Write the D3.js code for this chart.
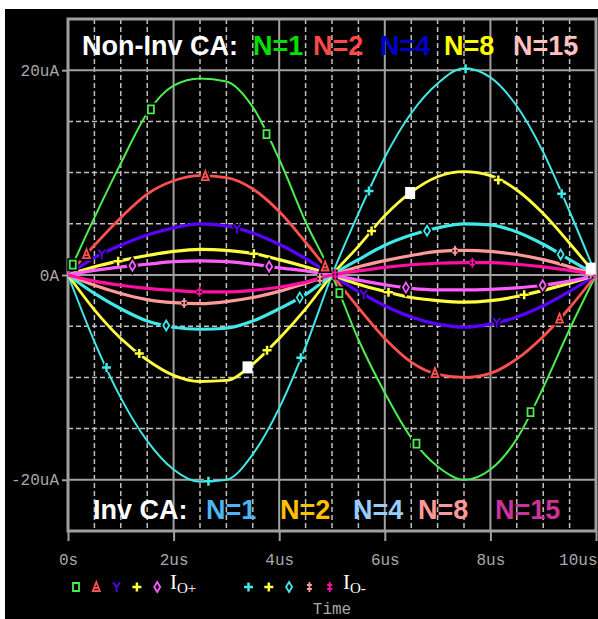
<!DOCTYPE html>
<html>
<head>
<meta charset="utf-8">
<title>CA output current</title>
<script src="https://d3js.org/d3.v7.min.js"></script>
<style>
body { margin:0; background:#fff; }
</style>
</head>
<body>
<svg id="chart" width="598" height="619"></svg>
<script>
// time in us, currents in uA
var time = [0,0.5,1,1.5,2,2.5,3,3.5,4,4.5,5,5.5,6,6.5,7,7.5,8,8.5,9,9.5,10];

// Io+ (non-inverting CA)
var plusN1  = [0,5.6,10.9,15.8,18.5,19.2,18.9,16.4,11.3,5.2,0,-6.3,-11.5,-15.9,-18.7,-20.0,-19.0,-16.0,-11.0,-5.3,0];
var plusN2  = [0,2.9,5.6,7.9,9.2,9.7,9.5,8.4,6.2,3.2,0,-3.2,-6.2,-8.5,-9.7,-10.0,-9.6,-8.2,-6.0,-3.2,0];
var plusN4  = [0,1.7,2.9,3.9,4.6,5.0,4.8,4.1,3.0,1.6,0,-1.6,-3.0,-4.1,-4.8,-5.1,-4.8,-4.1,-3.0,-1.6,0];
var plusN8  = [0,0.8,1.4,1.9,2.3,2.5,2.4,2.1,1.5,0.8,0,-0.9,-1.6,-2.2,-2.5,-2.65,-2.5,-2.1,-1.5,-0.8,0];
var plusN15 = [0,0.45,0.8,1.05,1.3,1.37,1.3,1.05,0.7,0.4,0,-0.5,-0.95,-1.3,-1.45,-1.46,-1.4,-1.25,-1.0,-0.6,0];

// Io- (inverting CA)
var minusN1  = [0,-6.5,-12.0,-16.2,-19.0,-20.2,-20.0,-17.5,-13.0,-7.0,0,6.0,11.5,15.8,18.7,20.2,19.3,16.5,12.0,6.2,0];
var minusN2  = [0,-3.4,-6.2,-8.3,-9.8,-10.4,-10.3,-8.7,-6.2,-3.3,0,2.8,5.8,8.1,9.6,10.1,9.7,8.3,6.0,3.1,0];
var minusN4  = [0,-1.8,-3.3,-4.5,-5.1,-5.3,-5.2,-4.5,-3.3,-1.9,0,1.5,2.9,3.9,4.6,5.0,4.9,4.2,3.0,1.5,0];
var minusN8  = [0,-1.0,-1.8,-2.4,-2.7,-2.8,-2.6,-2.2,-1.6,-0.8,0,0.8,1.4,1.9,2.3,2.4,2.3,2.0,1.5,0.8,0];
var minusN15 = [0,-0.6,-1.0,-1.3,-1.5,-1.65,-1.65,-1.5,-1.2,-0.7,0,0.4,0.75,1.0,1.15,1.2,1.2,1.05,0.8,0.45,0];

// times where the trace symbols sit
var markPlusN1  = [0.09,1.57,3.76,5.14,6.6,8.76];
var markPlusN2  = [0.35,2.6,4.87,6.95,9.31];
var markPlusN4  = [0.64,3.2,5.6,8.12];
var markPlusN8  = [0.95,3.52,6.07,8.64];
var markPlusN15 = [1.22,3.81,6.4,8.99];
var markMinusN1  = [0.73,2.66,4.41,5.7,7.53,9.35];
var markMinusN2  = [1.35,3.77,5.75,8.15];
var markMinusN4  = [1.86,4.39,6.8,9.33];
var markMinusN8  = [2.2,4.77,7.33,9.9];
var markMinusN15 = [2.49,5.06,7.66];
// white cursor boxes on the N=2 inverting trace
var cursorTimes = [3.4,6.48,9.9];

var xTicks = [0,2,4,6,8,10];
var xTickLabels = ["0s","2us","4us","6us","8us","10us"];
var yTicks = [20,0,-20];
var yTickLabels = ["20uA","0A","-20uA"];

var topTitle = "Non-Inv CA:";
var topLabels = ["N=1","N=2","N=4","N=8","N=15"];
var topColors = ["#00e000","#ff4848","#0000c8","#ffff00","#ffc0c0"];
var botTitle = "Inv CA:";
var botLabels = ["N=1","N=2","N=4","N=8","N=15"];
var botColors = ["#4db5f5","#ffc000","#99ccff","#ff9999","#cc3399"];

var series = [
  {v: plusN1,  c: "#4cee4c", w: 2,   s: "square",   m: markPlusN1},
  {v: plusN2,  c: "#ff5050", w: 2.8, s: "triangle", m: markPlusN2},
  {v: plusN4,  c: "#5a00ff", w: 3.2, s: "y",        m: markPlusN4},
  {v: plusN8,  c: "#ffff40", w: 3.2, s: "plus",     m: markPlusN8},
  {v: plusN15, c: "#ff5cff", w: 3.2, s: "diamond",  m: markPlusN15},
  {v: minusN1,  c: "#40e8e8", w: 2,   s: "plus",    m: markMinusN1},
  {v: minusN2,  c: "#ffff40", w: 2.8, s: "plus",    m: markMinusN2},
  {v: minusN4,  c: "#40e8e8", w: 3.2, s: "diamond", m: markMinusN4},
  {v: minusN8,  c: "#ff9a9a", w: 3.2, s: "dagger",  m: markMinusN8},
  {v: minusN15, c: "#ff10a0", w: 3.2, s: "dagger",  m: markMinusN15}
];

var svg = d3.select("#chart");
svg.append("rect").attr("x",5).attr("y",9).attr("width",593).attr("height",610).attr("fill","#000");

var x = d3.scaleLinear().domain([0,10]).range([68,596]);
var y = d3.scaleLinear().domain([-25,25]).range([531,19]);

// grid
var grid = svg.append("g");
d3.range(0.5,10,0.5).forEach(function(t){
  var solid = t % 2 === 0;
  grid.append("line").attr("x1",x(t)).attr("x2",x(t)).attr("y1",y(25)).attr("y2",y(-25))
    .attr("stroke", solid ? "#a0a0a0" : "#c0c0c0").attr("stroke-width", solid ? 2 : 1.5)
    .attr("stroke-dasharray", solid ? null : "5,3");
});
d3.range(-20,25,5).forEach(function(v){
  var solid = v % 20 === 0;
  grid.append("line").attr("x1",x(0)).attr("x2",x(10)).attr("y1",y(v)).attr("y2",y(v))
    .attr("stroke", solid ? "#a0a0a0" : "#c0c0c0").attr("stroke-width", solid ? 2 : 1.5)
    .attr("stroke-dasharray", solid ? null : "5,3");
});
svg.append("rect").attr("x",x(0)).attr("y",y(25)).attr("width",x(10)-x(0)).attr("height",y(-25)-y(25))
  .attr("fill","none").attr("stroke","#a0a0a0").attr("stroke-width",3);

// axes
var axFont = "'Liberation Mono', 'DejaVu Sans Mono', monospace";
var xAxis = svg.append("g").attr("transform","translate(0,"+y(-25)+")")
  .call(d3.axisBottom(x).tickValues(xTicks).tickSize(10).tickPadding(13)
    .tickFormat(function(d,i){ return xTickLabels[i]; }));
var yAxis = svg.append("g").attr("transform","translate("+x(0)+",0)")
  .call(d3.axisLeft(y).tickValues(yTicks).tickSize(6).tickPadding(3)
    .tickFormat(function(d,i){ return yTickLabels[i]; }));
[xAxis,yAxis].forEach(function(a){
  a.select(".domain").remove();
  a.selectAll("line").attr("stroke","#a0a0a0").attr("stroke-width",2);
  a.selectAll("text").attr("fill","#a8a8a8").style("font-family",axFont).style("font-size","16px");
});
// last time label sits flush with the right frame
xAxis.selectAll(".tick").filter(function(d){ return d === 10; }).select("text")
  .attr("text-anchor","end").attr("x",1);
svg.append("text").attr("x",(x(0)+x(10))/2).attr("y",614).attr("text-anchor","middle")
  .attr("fill","#a8a8a8").style("font-family",axFont).style("font-size","16px").text("Time");

// symbols
var symbolPaths = {
  square:   "M-3,-4H3V4H-3Z",
  triangle: "M0,-5L-3.5,4H3.5ZM-2,1H2",
  y:        "M-3.5,-4.5L0,0L3.5,-4.5M0,0V5",
  plus:     "M-4.5,0H4.5M0,-4.5V4.5",
  diamond:  "M0,-5L3,0L0,5L-3,0Z",
  dagger:   "M0,-5V5M-2.5,-2H2.5M-2.5,2H2.5"
};
function drawSymbol(g, type, color){
  g.append("path").attr("d",symbolPaths[type]).attr("fill","#000")
    .attr("stroke","#000").attr("stroke-width",5);
  g.append("path").attr("d",symbolPaths[type]).attr("fill", "#000")
    .attr("stroke",color).attr("stroke-width", type==="plus" ? 2.5 : 1.8);
}
function valueAt(vals, t){
  var i = Math.min(d3.bisectRight(time, t) - 1, time.length - 2);
  var f = (t - time[i]) / (time[i+1] - time[i]);
  return vals[i] + f * (vals[i+1] - vals[i]);
}

// traces
var line = d3.line().x(function(d,i){ return x(time[i]); }).y(function(d){ return y(d); })
  .curve(d3.curveMonotoneX);
var traces = svg.append("g");
series.forEach(function(s){
  traces.append("path").datum(s.v).attr("d",line).attr("fill","none")
    .attr("stroke",s.c).attr("stroke-width",s.w).attr("stroke-linejoin","round");
});
var marks = svg.append("g");
series.forEach(function(s){
  s.m.forEach(function(t){
    var g = marks.append("g").attr("transform","translate("+x(t)+","+y(valueAt(s.v,t))+")");
    drawSymbol(g, s.s, s.c);
  });
});
cursorTimes.forEach(function(t){
  marks.append("rect").attr("x",x(t)-5).attr("y",y(valueAt(minusN2,t))-6)
    .attr("width",10).attr("height",12).attr("fill","#fff");
});

// titles
var titleFont = "'Liberation Sans', Arial, sans-serif";
function title(tx, ty, head, labels, colors, xs){
  svg.append("text").attr("x",tx).attr("y",ty).attr("fill","#fff")
    .style("font-family",titleFont).style("font-size","27px").style("font-weight","bold").text(head);
  labels.forEach(function(l,i){
    svg.append("text").attr("x",xs[i]).attr("y",ty).attr("fill",colors[i])
      .style("font-family",titleFont).style("font-size","27px").style("font-weight","bold").text(l);
  });
}
title(82, 55, topTitle, topLabels, topColors, [253,313,380,444,513]);
title(93, 519, botTitle, botLabels, botColors, [206,280,353,418,495]);

// symbol legend
var legY = 587;
var plusLeg = series.slice(0,5), minusLeg = series.slice(5);
plusLeg.forEach(function(s,i){
  drawSymbol(svg.append("g").attr("transform","translate("+(76+i*20.3)+","+legY+")"), s.s, s.c);
});
minusLeg.forEach(function(s,i){
  drawSymbol(svg.append("g").attr("transform","translate("+(248.5+i*20.3)+","+legY+")"), s.s, s.c);
});
function ioLabel(lx, sub){
  var t = svg.append("text").attr("x",lx).attr("y",589).attr("fill","#fff")
    .style("font-family","'Liberation Serif', 'Times New Roman', serif").style("font-size","21px");
  t.append("tspan").text("I");
  t.append("tspan").attr("dy",4).style("font-size","15px").text(sub);
}
ioLabel(170, "O+");
ioLabel(343, "O-");
</script>
</body>
</html>
